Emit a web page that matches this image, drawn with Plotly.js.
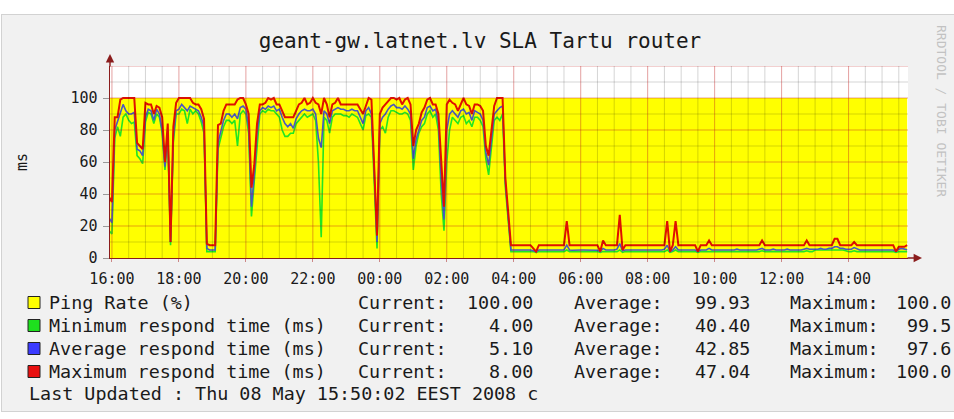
<!DOCTYPE html>
<html>
<head>
<meta charset="utf-8">
<script src="https://cdn.plot.ly/plotly-3.0.1.min.js"></script>
<style>
  html, body { margin:0; padding:0; background:#ffffff; width:954px; height:419px; overflow:hidden; }
  #bg { position:absolute; left:1px; top:14px; width:1000px; height:398px; background:#f1f1f1; border:1px solid #d2d2d2; box-sizing:border-box; }
  #plot { position:absolute; left:0; top:0; width:954px; height:419px; }
</style>
</head>
<body>
<div id="bg"></div>
<div id="plot"></div>
<script>
// ---- data (5-minute samples starting 2008-05-07 15:55) ----
const startTime = '2008-05-07 15:55:00';
const stepMinutes = 5;

const pingRate = [
  100,100,100,100,100,100,100,100,100,100,100,100,
  100,100,100,100,100,100,100,100,100,100,100,100,
  100,100,100,100,100,100,100,100,100,100,100,100,
  100,100,100,100,100,100,100,100,100,100,100,100,
  100,100,100,100,100,100,100,100,100,100,100,100,
  100,100,100,100,100,100,100,100,100,100,100,100,
  100,100,100,100,100,100,100,100,100,100,100,100,
  100,100,100,100,100,100,100,100,100,100,100,100,
  100,100,100,100,100,100,100,100,100,100,100,100,
  100,100,100,100,100,100,100,100,100,100,100,100,
  100,100,100,100,100,100,100,100,100,100,100,100,
  100,100,100,100,100,100,100,100,100,100,100,100,
  100,100,100,100,100,100,100,100,100,100,100,100,
  100,100,100,100,100,100,100,100,100,100,100,100,
  100,100,100,100,100,100,100,100,100,100,100,100,
  100,100,100,100,100,100,100,100,100,100,100,100,
  100,100,100,100,100,100,100,100,100,100,100,100,
  100,100,100,100,100,100,100,100,100,100,100,100,
  100,100,100,100,100,100,100,100,100,100,100,100,
  100,100,100,100,100,100,100,100,100,100,100,100,
  100,100,100,100,100,100,100,100,100,100,100,100,
  100,100,100,100,100,100,100,100,100,100,100,100,
  100,100,100,100,100,100,100,100,100,100,100,100,
  100,100,100,100,100,100,100,100,100,100,100
];

const maxRespond = [
  38,35,88,88,99,100,100,100,100,100,
  72,70,68,97,96,96,90,95,94,88,
  60,84,10,82,97,100,100,100,100,100,
  97,96,96,93,87,9,8,8,8,83,
  84,92,96,96,96,96,99,100,100,96,
  90,44,58,84,96,96,97,100,99,100,
  96,96,92,88,88,88,88,92,96,97,
  100,96,97,100,97,96,90,100,96,88,
  96,97,100,96,96,96,96,96,96,96,
  93,90,95,100,99,60,14,90,94,96,
  98,100,100,99,100,96,99,100,96,70,
  80,84,91,94,99,100,96,96,90,60,
  32,96,99,97,96,92,96,100,96,95,
  90,96,96,95,92,70,64,78,95,100,
  100,100,50,30,8,
  8,8,8,8,8,8,8,6,4,8,8,8,
  8,8,8,8,8,8,8,23,8,8,8,8,
  8,8,8,8,8,8,8,4,11,8,8,8,
  8,8,27,5,8,8,8,8,8,8,8,8,
  8,8,8,8,8,8,8,23,4,8,23,8,
  8,8,8,8,8,8,4,8,8,8,11,8,
  8,8,8,8,8,8,8,8,8,8,8,8,
  8,8,8,8,8,11,8,8,8,8,8,8,
  8,8,8,8,8,8,8,8,8,11,8,8,
  8,8,8,8,8,8,8,12,12,8,8,8,
  8,8,10,8,8,8,8,8,8,8,8,8,
  8,8,8,8,8,4,7,7,7,8
];

const avgRespond = [
  25,22,80,85,90,96,92,90,90,91,
  68,67,64,88,93,92,86,93,90,80,
  57,80,10,76,92,93,96,94,92,95,
  94,93,92,88,82,6,5,5,5,72,
  80,86,90,90,88,90,87,94,95,93,
  82,32,52,78,92,94,93,95,94,95,
  92,93,88,84,82,84,81,87,90,92,
  93,92,92,93,90,75,69,92,90,84,
  92,93,94,93,93,92,92,93,92,92,
  88,84,92,94,90,55,10,84,88,90,
  93,95,96,94,94,93,95,93,90,62,
  74,80,86,88,94,95,92,93,85,50,
  24,80,90,92,90,88,92,93,90,91,
  86,92,91,90,86,66,58,74,90,92,
  94,95,47,26,5,
  5,5,5,5,5,5,5,4.5,4,5,5,5,
  5,5,4.8,5,5,5.2,5,8,5,4.8,5,5,
  5,5,5,5,5,5,4.8,4,6,5,5,5,
  5,5.5,9,4.5,5,5,5,5,5.2,5,5,5,
  5,5,5,5,5,5,5.5,8,4,5,7,5,
  5,5,5,5,5,5,4,5,5,5,6,5,
  5,5,5,5.2,5,5,5,5,5.5,5,5,5,
  5,5,5,5,5.5,6,5,5,5,5.5,5,5,
  5,5,5.5,5,5,5,5,5,5.5,6,5.5,5.5,
  5.5,5.5,6,5.5,5.5,6,6,7,7,6,6,5.5,
  5.5,5.5,6.5,5.5,5,5,5,5,5,5,5,5,
  5,5,5,5,5,4,5.5,6,5.5,5.1
];

const minRespond = [
  17,15,75,82,76,88,90,86,84,85,
  64,62,59,85,91,90,84,90,88,78,
  55,76,8,72,90,90,93,92,84,93,
  90,92,90,85,78,4,4,4,4,68,
  76,82,86,86,84,86,70,90,92,90,
  78,26,48,72,90,92,91,93,92,92,
  90,88,80,76,76,78,78,84,86,88,
  90,88,89,90,86,60,13,88,86,78,
  88,90,90,90,89,89,88,90,89,88,
  84,80,89,90,88,50,6,80,82,78,
  88,92,92,91,90,90,91,90,86,55,
  70,78,82,84,90,92,88,90,80,40,
  17,60,80,88,86,84,88,89,84,86,
  82,88,88,86,82,62,52,70,86,88,
  86,90,44,24,4,
  4,4,4,4,4,4,4,4,3.5,4,4,4,
  4,4,4,4,4,4,4,5,4,4,4,4,
  4,4,4,4,4,4,4,3.5,4,4,4,4,
  4,4,5,3.5,4,4,4,4,4,4,4,4,
  4,4,4,4,4,4,4,5,3.5,4,5,4,
  4,4,4,4,4,4,3.5,4,4,4,4,4,
  4,4,4,4,4,4,4,4,4,4,4,4,
  4,4,4,4,4,4.5,4,4,4,4,4,4,
  4,4,4,4,4,4,4,4,4,4.5,4,4,
  5,5,5,5,5,5,5,5,5,5,5,4.5,
  4,4,4.5,4,4,4,4,4,4,4,4,4,
  4,4,4,4,4,3.5,4,4,4,4
];

const yTickVals = [0, 20, 40, 60, 80, 100];
const xRange = ['2008-05-07 15:56:30', '2008-05-08 15:46:30'];
const gridStartTime = '2008-05-07 16:00:00';

const legendLabels = ['Ping Rate (%)', 'Minimum respond time (ms)', 'Average respond time (ms)', 'Maximum respond time (ms)'];
const legendColors = ['#ffff00', '#1ee01e', '#3a3aff', '#e81010'];
const currentVals = ['100.00', '4.00', '5.10', '8.00'];
const averageVals = ['99.93', '40.40', '42.85', '47.04'];
const maximumVals = ['100.0', '99.5', '97.6', '100.0'];
const lastUpdated = 'Last Updated : Thu 08 May 15:50:02 EEST 2008 c';
const titleText = 'geant-gw.latnet.lv SLA Tartu router';

// ---- helpers ----
function pad(n){ return (n < 10 ? '0' : '') + n; }
function parseT(s){
  const m = s.match(/(\d+)-(\d+)-(\d+) (\d+):(\d+):(\d+)/);
  return Date.UTC(+m[1], +m[2]-1, +m[3], +m[4], +m[5], +m[6]);
}
function fmtT(ms){
  const d = new Date(ms);
  return d.getUTCFullYear() + '-' + pad(d.getUTCMonth()+1) + '-' + pad(d.getUTCDate()) + ' ' +
         pad(d.getUTCHours()) + ':' + pad(d.getUTCMinutes()) + ':' + pad(d.getUTCSeconds());
}
const t0 = parseT(startTime);
const times = maxRespond.map((_, i) => fmtT(t0 + i * stepMinutes * 60000));

// layout geometry (pixels)
const W = 954, H = 419;
const M = { l: 110, r: 46, t: 66, b: 161 };
const PW = W - M.l - M.r, PH = H - M.t - M.b;
const px = x => (x - M.l) / PW;
const py = y => (H - M.b - y) / PH;

const FONT = 'DejaVu Sans Mono, monospace';

// ---- traces ----
const traces = [
  { x: times, y: pingRate, type: 'scatter', mode: 'lines', line: { width: 0, color: '#ffff00' },
    fill: 'tozeroy', fillcolor: '#ffff00', hoverinfo: 'skip', showlegend: false },
  { x: times, y: minRespond, type: 'scatter', mode: 'lines', line: { width: 1.6, color: '#22e622' }, showlegend: false },
  { x: times, y: avgRespond, type: 'scatter', mode: 'lines', line: { width: 1.6, color: '#4a58c0' }, showlegend: false },
  { x: times, y: maxRespond, type: 'scatter', mode: 'lines', line: { width: 2, color: '#e01000' }, showlegend: false }
];

// ---- grid (drawn on top, like rrdtool) ----
const shapes = [];
const MINOR = 'rgba(0,0,0,0.17)', MAJOR = 'rgba(190,30,30,0.42)';
for (let v = 10; v <= 120; v += 10) {
  shapes.push({ type: 'line', layer: 'above', xref: 'paper', x0: 0, x1: 1, yref: 'y', y0: v, y1: v,
    line: { color: v % 20 === 0 ? MAJOR : MINOR, width: 1 } });
}
const gEnd = parseT(xRange[1].replace(/(\d+:\d+):\d+$/, '$1:00'));
for (let t = parseT(gridStartTime); t <= gEnd; t += 30 * 60000) {
  const d = new Date(t);
  const major = d.getUTCMinutes() === 0 && d.getUTCHours() % 2 === 0;
  shapes.push({ type: 'line', layer: 'above', xref: 'x', x0: fmtT(t), x1: fmtT(t), yref: 'paper', y0: 0, y1: 1,
    line: { color: major ? MAJOR : MINOR, width: 1 } });
}

// legend colour boxes
const rowY = [302.5, 325.5, 348.5, 371.5];
legendColors.forEach((c, k) => {
  shapes.push({ type: 'rect', xref: 'paper', yref: 'paper', x0: px(28), x1: px(40), y0: py(rowY[k] - 6), y1: py(rowY[k] + 6),
    fillcolor: c, line: { color: '#222', width: 1 } });
});

// ---- annotations ----
const ann = [];
const txt = (text, x, y, anchor, size, extra) => Object.assign({
  text: text, xref: 'paper', yref: 'paper', x: px(x), y: py(y), xanchor: anchor, yanchor: 'middle',
  showarrow: false, font: { family: FONT, size: size, color: '#1a1a1a' }
}, extra || {});

legendLabels.forEach((lab, k) => {
  ann.push(txt(lab, 47, rowY[k], 'left', 18.4));
  ann.push(txt('Current:', 356, rowY[k], 'left', 18.4));
  ann.push(txt(currentVals[k], 535, rowY[k], 'right', 18.4));
  ann.push(txt('Average:', 572, rowY[k], 'left', 18.4));
  ann.push(txt(averageVals[k], 752, rowY[k], 'right', 18.4));
  ann.push(txt('Maximum:', 788, rowY[k], 'left', 18.4));
  ann.push(txt(maximumVals[k], 953, rowY[k], 'right', 18.4));
});
ann.push(txt(lastUpdated, 27, 393.5, 'left', 18.4));
ann.push(txt('ms', 22, 162, 'center', 15, { textangle: -90 }));
ann.push(txt('RRDTOOL / TOBI OETIKER', 942, 111, 'center', 13, { textangle: 90, font: { family: FONT, size: 13, color: '#c2c2c2' } }));

// axis arrows
ann.push({ text: '', xref: 'paper', yref: 'paper', x: 0, y: py(54), ax: 0, ay: 14, showarrow: true,
  arrowhead: 2, arrowsize: 1.2, arrowwidth: 1.4, arrowcolor: '#8a1c1c', standoff: 0 });
ann.push({ text: '', xref: 'paper', yref: 'paper', x: px(922), y: 0, ax: -16, ay: 0, showarrow: true,
  arrowhead: 2, arrowsize: 1.2, arrowwidth: 1.4, arrowcolor: '#8a1c1c', standoff: 0 });

const layout = {
  width: W, height: H,
  margin: M,
  paper_bgcolor: 'rgba(0,0,0,0)',
  plot_bgcolor: '#ffffff',
  showlegend: false,
  title: { text: titleText, font: { family: FONT, size: 21, color: '#1a1a1a' },
           xref: 'container', yref: 'container', x: 480 / W, xanchor: 'center', y: 1 - 41 / H, yanchor: 'middle' },
  xaxis: {
    type: 'date', range: xRange, showgrid: false, zeroline: false,
    showline: true, linecolor: '#8a1c1c', linewidth: 1.4,
    ticks: 'outside', ticklen: 3, tickcolor: '#c88', tickwidth: 1, ticklabelstandoff: 4,
    tick0: gridStartTime, dtick: 2 * 3600 * 1000, tickformat: '%H:%M',
    tickfont: { family: FONT, size: 15, color: '#1a1a1a' }, fixedrange: true
  },
  yaxis: {
    range: [0, 120], tickvals: yTickVals, showgrid: false, zeroline: false,
    showline: true, linecolor: '#8a1c1c', linewidth: 1.4,
    ticks: 'outside', ticklen: 6, tickcolor: '#999', tickwidth: 1, ticklabelstandoff: 2,
    tickfont: { family: FONT, size: 15, color: '#1a1a1a' }, fixedrange: true
  },
  shapes: shapes,
  annotations: ann
};

Plotly.newPlot('plot', traces, layout, { staticPlot: true, displayModeBar: false });
</script>
</body>
</html>
